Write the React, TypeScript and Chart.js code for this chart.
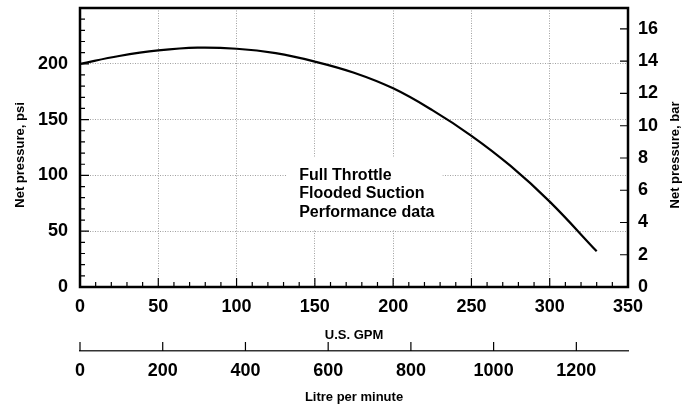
import React, { useEffect, useRef } from "react";
import { Chart, registerables } from "chart.js";

Chart.register(...registerables);

// ---- data ----
const flowGpm = [0, 25, 50, 75, 100, 125, 150, 175, 200, 225, 250, 275, 300, 330];
const pressurePsi = [200, 207, 212, 214.5, 213.5, 209.5, 202, 192, 178, 158.5, 135.5, 108.5, 76.5, 32];

const gpmMax = 350;
const gpmStep = 50;
const gpmMinorStep = 10;
const psiMax = 250;
const psiStep = 50;
const psiMinorStep = 10;
const barMax = 17.3;
const barStep = 2;
const litrePerGallon = 3.78541;
const litreMax = gpmMax * litrePerGallon;
const litreStep = 200;

const leftTitle = "Net pressure, psi";
const rightTitle = "Net pressure, bar";
const bottomTitle = "U.S. GPM";
const secondTitle = "Litre per minute";
const noteLines = ["Full Throttle", "Flooded Suction", "Performance data"];
const noteAnchor = { gpm: 140, psi: 100 };

const FONT = "'Liberation Sans', Arial, Helvetica, sans-serif";
const tickFont = { family: FONT, size: 18, weight: "bold" as const };
const titleFont = { family: FONT, size: 13, weight: "bold" as const };
const GRID = "#a0a0a0";

const framePlugin = {
  id: "frame",
  afterDatasetsDraw(chart: any) {
    const { ctx, scales } = chart;
    const x = scales.x.getPixelForValue(noteAnchor.gpm);
    const y0 = scales.y.getPixelForValue(noteAnchor.psi);
    const lh = 18.5;
    ctx.save();
    ctx.font = `bold 16px ${FONT}`;
    const w = Math.max(...noteLines.map((l) => ctx.measureText(l).width));
    ctx.fillStyle = "#fff";
    ctx.fillRect(x - 13, y0 - 18, w + 21, lh * (noteLines.length - 1) + 35);
    ctx.fillStyle = "#000";
    ctx.textAlign = "left";
    ctx.textBaseline = "middle";
    noteLines.forEach((l, i) => ctx.fillText(l, x, y0 + i * lh));
    ctx.restore();
  },
  afterDraw(chart: any) {
    const { ctx, chartArea: ca, scales } = chart;
    ctx.save();
    ctx.strokeStyle = "#000";
    ctx.lineWidth = 1.2;
    ctx.beginPath();
    for (let v = gpmMinorStep; v < gpmMax; v += gpmMinorStep) {
      const px = scales.x.getPixelForValue(v);
      const len = v % gpmStep === 0 ? 9 : 5;
      ctx.moveTo(px, ca.bottom);
      ctx.lineTo(px, ca.bottom - len);
    }
    for (let v = psiMinorStep; v < psiMax; v += psiMinorStep) {
      const py = scales.y.getPixelForValue(v);
      const len = v % psiStep === 0 ? 9 : 5;
      ctx.moveTo(ca.left, py);
      ctx.lineTo(ca.left + len, py);
    }
    for (let v = barStep; v < barMax; v += barStep) {
      const py = scales.y2.getPixelForValue(v);
      ctx.moveTo(ca.right, py);
      ctx.lineTo(ca.right - 8, py);
    }
    const x2 = scales.x2;
    for (let v = 0; v <= litreMax; v += litreStep) {
      const px = x2.getPixelForValue(v);
      ctx.moveTo(px, x2.top);
      ctx.lineTo(px, x2.top - 9);
    }
    ctx.stroke();

    ctx.lineWidth = 2.5;
    ctx.strokeRect(ca.left, ca.top, ca.right - ca.left, ca.bottom - ca.top);

    ctx.fillStyle = "#000";
    ctx.font = `bold 13px ${FONT}`;
    ctx.textAlign = "center";
    ctx.textBaseline = "middle";
    const cy = (ca.top + ca.bottom) / 2 + 7.5;
    ctx.save();
    ctx.translate(20, cy);
    ctx.rotate(-Math.PI / 2);
    ctx.fillText(leftTitle, 0, 0);
    ctx.restore();
    ctx.save();
    ctx.translate(ca.right + 47, cy);
    ctx.rotate(-Math.PI / 2);
    ctx.fillText(rightTitle, 0, 0);
    ctx.restore();
    ctx.restore();
  },
};

const hideEdge = (max: number) => (c: any) =>
  c.tick && (c.tick.value === 0 || c.tick.value === max) ? "rgba(0,0,0,0)" : GRID;

export default function App() {
  const canvasRef = useRef<HTMLCanvasElement | null>(null);

  useEffect(() => {
    if (!canvasRef.current) return;
    const chart = new Chart(canvasRef.current, {
      type: "line",
      data: {
        datasets: [
          {
            data: flowGpm.map((g, i) => ({ x: g, y: pressurePsi[i] })),
            xAxisID: "x",
            yAxisID: "y",
            borderColor: "#000",
            borderWidth: 2.2,
            pointRadius: 0,
            fill: false,
            tension: 0.4,
          },
        ],
      },
      options: {
        animation: false,
        responsive: false,
        events: [],
        layout: { padding: { top: 8, left: 0, right: 0, bottom: 0 } },
        plugins: { legend: { display: false }, tooltip: { enabled: false } },
        scales: {
          x: {
            type: "linear",
            position: "bottom",
            weight: 0,
            min: 0,
            max: gpmMax,
            afterFit: (s: any) => {
              s.height = 64;
              s.paddingLeft = 0;
              s.paddingRight = 0;
            },
            ticks: {
              stepSize: gpmStep,
              padding: 8.9,
              font: tickFont,
              color: "#000",
              maxRotation: 0,
              autoSkip: false,
              callback: (v: any) => String(v),
            },
            grid: { color: hideEdge(gpmMax), lineWidth: 1, drawTicks: false },
            border: { display: false, dash: [1, 1.5] },
            title: { display: true, text: bottomTitle, font: titleFont, color: "#000", padding: { top: 0, bottom: 8.2 } },
          },
          x2: {
            type: "linear",
            position: "bottom",
            weight: 1,
            min: 0,
            max: litreMax,
            bounds: "data",
            afterFit: (s: any) => {
              s.height = 55;
              s.paddingLeft = 0;
              s.paddingRight = 0;
            },
            ticks: {
              stepSize: litreStep,
              includeBounds: false,
              padding: 9.2,
              font: tickFont,
              color: "#000",
              maxRotation: 0,
              autoSkip: false,
              callback: (v: any) => String(v),
            },
            grid: { display: false, drawTicks: false },
            border: { display: true, color: "#333", width: 1.5 },
            title: { display: true, text: secondTitle, font: titleFont, color: "#000", padding: { top: 0, bottom: 0.9 } },
          },
          y: {
            type: "linear",
            position: "left",
            min: 0,
            max: psiMax,
            afterFit: (s: any) => {
              s.width = 80;
              s.paddingTop = 0;
              s.paddingBottom = 0;
            },
            ticks: {
              stepSize: psiStep,
              padding: 12,
              font: tickFont,
              color: "#000",
              autoSkip: false,
              callback: (v: any) => (v < psiMax ? String(v) : null),
            },
            grid: { color: hideEdge(psiMax), lineWidth: 1, drawTicks: false },
            border: { display: false, dash: [1, 1.5] },
          },
          y2: {
            type: "linear",
            position: "right",
            min: 0,
            max: barMax,
            bounds: "data",
            afterFit: (s: any) => {
              s.width = 63;
              s.paddingTop = 0;
              s.paddingBottom = 0;
            },
            ticks: {
              stepSize: barStep,
              includeBounds: false,
              padding: 10,
              font: tickFont,
              color: "#000",
              autoSkip: false,
              callback: (v: any) => String(v),
            },
            grid: { display: false, drawTicks: false },
            border: { display: false },
          },
        },
      },
      plugins: [framePlugin],
    } as any);
    return () => chart.destroy();
  }, []);

  return (
    <div style={{ position: "absolute", left: 0, top: 0, width: 691, height: 406, background: "#fff" }}>
      <canvas ref={canvasRef} width={691} height={406} style={{ display: "block" }} />
    </div>
  );
}
